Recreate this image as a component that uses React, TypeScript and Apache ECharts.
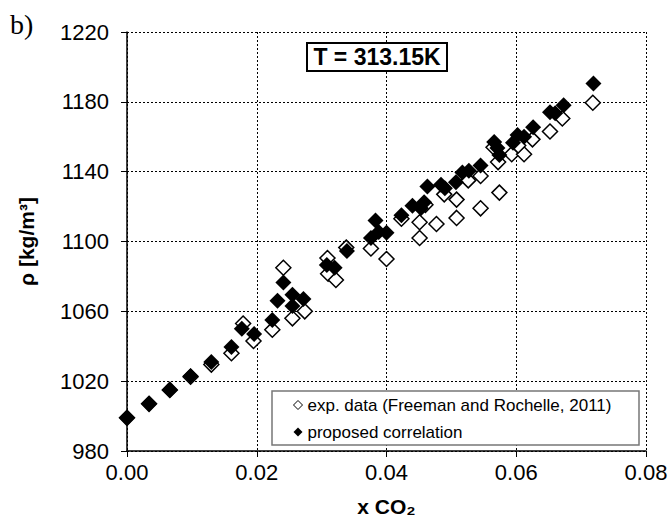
import React, { useEffect, useRef } from "react";
import * as echarts from "echarts";

// ---- data ----
const xTicks = [0, 0.02, 0.04, 0.06, 0.08];
const yTicks = [980, 1020, 1060, 1100, 1140, 1180, 1220];

const expName = "exp. data (Freeman and Rochelle, 2011)";
const corrName = "proposed correlation";

const expX = [
  0.0, 0.0034, 0.0066, 0.0098, 0.013, 0.0161, 0.0179, 0.0195, 0.0224, 0.0241,
  0.0255, 0.0274, 0.0309, 0.031, 0.0322, 0.0338, 0.0376, 0.04, 0.0423, 0.0451,
  0.0451, 0.046, 0.0477, 0.0489, 0.0508, 0.0508, 0.0526, 0.0545, 0.0545, 0.0565,
  0.0572, 0.0574, 0.0593, 0.0612, 0.0603, 0.0625, 0.0652, 0.0671, 0.0718,
];
const expY = [
  999, 1007, 1015, 1022.5, 1029.5, 1036, 1053, 1043, 1049.5, 1085,
  1056, 1060, 1090.5, 1081.5, 1078, 1096.5, 1096, 1090, 1113, 1102,
  1111, 1121, 1110, 1127, 1124, 1113.5, 1135, 1137.5, 1119, 1154,
  1145.5, 1128, 1150, 1150, 1155, 1158.5, 1163, 1170.5, 1179.5,
];

const corrX = [
  0.0, 0.0034, 0.0066, 0.0098, 0.013, 0.0161, 0.0177, 0.0196, 0.0224, 0.0232,
  0.0241, 0.0255, 0.0255, 0.0272, 0.0308, 0.032, 0.0339, 0.0376, 0.0383, 0.0388,
  0.04, 0.0423, 0.044, 0.0453, 0.0458, 0.0463, 0.0484, 0.049, 0.0507, 0.0517,
  0.0527, 0.0545, 0.0566, 0.0571, 0.0574, 0.0595, 0.0602, 0.0612, 0.0626, 0.0652,
  0.066, 0.0673, 0.0719,
];
const corrY = [
  999, 1007, 1015, 1023, 1031, 1039.5, 1050, 1047, 1055, 1066,
  1076.5, 1069.5, 1063, 1067, 1086.5, 1085, 1094.5, 1102, 1112, 1105.5,
  1105, 1115, 1120.5, 1119, 1122.5, 1131.5, 1132.5, 1130.5, 1134, 1139.5,
  1140.5, 1143.5, 1157, 1153.5, 1149.5, 1156.5, 1161, 1160, 1165.5, 1174,
  1173.5, 1178, 1190.5,
];

const tempLabel = "T = 313.15K";
const panelLabel = "b)";
const xTitle = "x CO\u2082";
const yTitle = "\u03c1 [kg/m\u00b3]";

const FONT = "'Liberation Sans', Arial, 'DejaVu Sans', sans-serif";

export default function App() {
  const ref = useRef<HTMLDivElement>(null);

  useEffect(() => {
    document.body.style.margin = "0";
    if (!ref.current) return;
    const chart = echarts.init(ref.current, undefined, { renderer: "svg" });

    const expData = expX.map((x, i) => [x, expY[i]]);
    const corrData = corrX.map((x, i) => [x, corrY[i]]);

    const gridLine = { show: true, lineStyle: { color: "#000", width: 1, type: [2, 2] as any } };

    chart.setOption({
      animation: false,
      backgroundColor: "#fff",
      grid: { left: 127, right: 25, top: 32, bottom: 68, show: false },
      xAxis: {
        type: "value",
        min: xTicks[0],
        max: xTicks[xTicks.length - 1],
        interval: xTicks[1] - xTicks[0],
        axisLine: { show: true, onZero: false, lineStyle: { color: "#000", width: 1.5 } },
        axisTick: { show: true, length: 6, lineStyle: { color: "#000", width: 1 } },
        axisLabel: {
          formatter: (v: number) => v.toFixed(2),
          fontSize: 22,
          color: "#000",
          fontFamily: FONT,
          margin: 10,
        },
        splitLine: gridLine,
        name: xTitle,
        nameLocation: "middle",
        nameGap: 45,
        nameTextStyle: { fontSize: 21, fontWeight: "bold", color: "#000", fontFamily: FONT },
      },
      yAxis: {
        type: "value",
        min: yTicks[0],
        max: yTicks[yTicks.length - 1],
        interval: yTicks[1] - yTicks[0],
        axisLine: { show: true, onZero: false, lineStyle: { color: "#000", width: 1.5 } },
        axisTick: { show: true, length: 6, lineStyle: { color: "#000", width: 1 } },
        axisLabel: {
          formatter: (v: number) => String(v),
          fontSize: 22,
          color: "#000",
          fontFamily: FONT,
          margin: 18,
        },
        splitLine: gridLine,
        name: yTitle,
        nameLocation: "middle",
        nameGap: 90,
        nameRotate: 90,
        nameTextStyle: { fontSize: 21, fontWeight: "bold", color: "#000", fontFamily: FONT },
      },
      legend: {
        orient: "vertical",
        left: 293,
        top: 395,
        padding: 0,
        itemWidth: 9,
        itemHeight: 9,
        itemGap: 7,
        z: 5,
        textStyle: { fontSize: 17, color: "#000", fontFamily: FONT, lineHeight: 20 },
        data: [
          { name: expName, icon: "diamond", itemStyle: { borderWidth: 1 } },
          { name: corrName, icon: "diamond" },
        ],
      },
      graphic: [
        {
          type: "rect",
          z: 3,
          shape: { x: 272, y: 391, width: 367, height: 54 },
          style: { fill: "#fff", stroke: "#777", lineWidth: 1.5 },
        },
        {
          type: "rect",
          z: 3,
          shape: { x: 307, y: 43, width: 140, height: 28 },
          style: { fill: "#fff", stroke: "#000", lineWidth: 2 },
        },
        {
          type: "text",
          z: 4,
          x: 377,
          y: 57,
          style: {
            text: tempLabel,
            fontSize: 23,
            fontWeight: "bold",
            fontFamily: FONT,
            fill: "#000",
            align: "center",
            verticalAlign: "middle",
          },
        },
        {
          type: "text",
          z: 4,
          x: 10,
          y: 24,
          style: {
            text: panelLabel,
            fontSize: 28,
            fontFamily: "'Liberation Serif', 'Times New Roman', serif",
            fill: "#000",
            align: "left",
            verticalAlign: "middle",
          },
        },
      ],
      series: [
        {
          name: expName,
          type: "scatter",
          symbol: "diamond",
          symbolSize: 15,
          z: 2,
          itemStyle: { color: "#fff", borderColor: "#000", borderWidth: 1.5, opacity: 1 },
          data: expData,
        },
        {
          name: corrName,
          type: "scatter",
          symbol: "diamond",
          symbolSize: 16,
          z: 3,
          itemStyle: { color: "#000", opacity: 1 },
          data: corrData,
        },
      ],
    });

    return () => chart.dispose();
  }, []);

  return <div ref={ref} style={{ width: 671, height: 522 }} />;
}
